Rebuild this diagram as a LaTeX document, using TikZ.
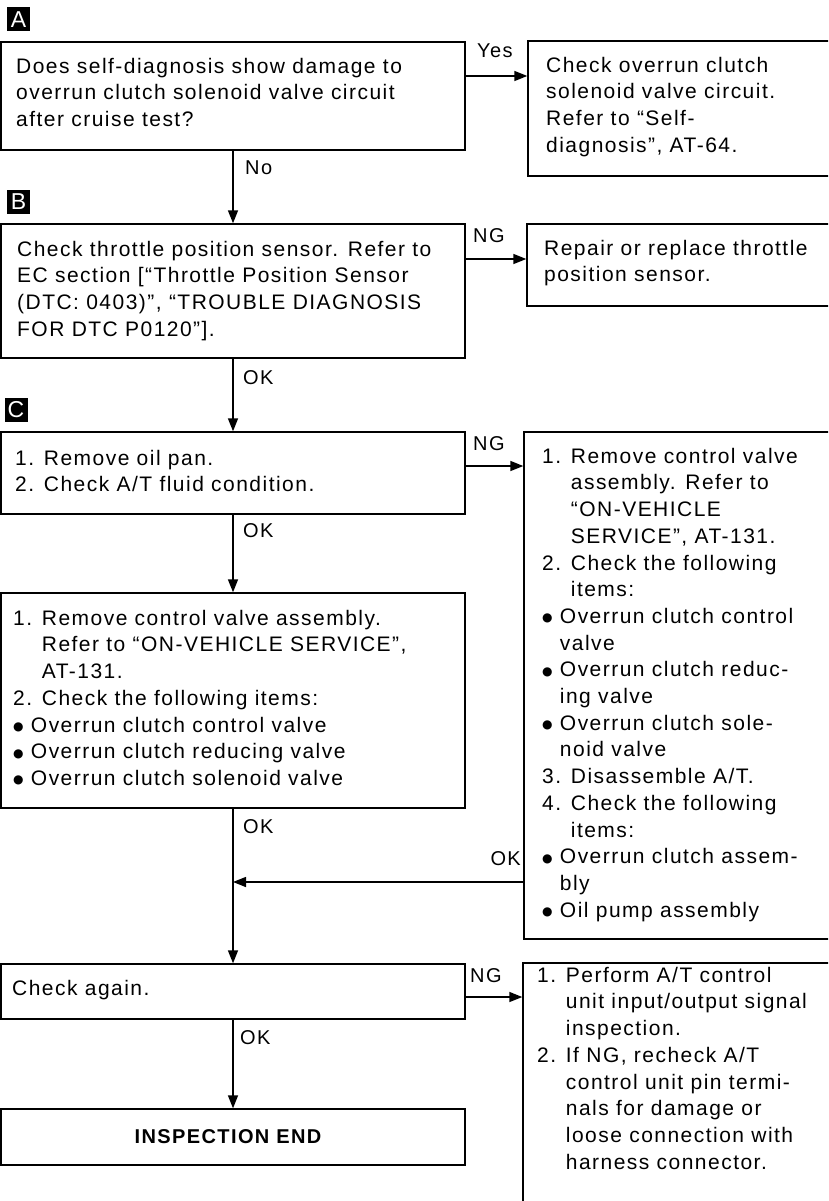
\documentclass[tikz,border=0pt]{standalone}
\usepackage{fontspec}
\setmainfont{Liberation Sans}[LetterSpace=7,Ligatures={TeX,NoCommon}]
\newfontfamily\symfnt{DejaVu Sans}
\usetikzlibrary{arrows.meta,fit}
\newcommand\firstline{\rule{0pt}{16pt}}
\newcommand\numind{\phantom{1. }}
\newcommand\bulsym{\raisebox{1.6pt}{\symfnt\fontsize{12}{12}\selectfont ●}}
\newcommand\bulind{\phantom{\bulsym\ }}
\begin{document}
\begin{tikzpicture}[x=1pt,y=-1pt,
  box/.style={draw, line width=1.4pt, inner sep=0pt},
  txt/.style={anchor=north west, inner sep=0pt, align=left, font=\fontsize{21}{26.7}\selectfont},
  lab/.style={anchor=base west, inner sep=0pt, font=\fontsize{20}{22}\selectfont},
  arr/.style={line width=1.4pt, -{Triangle[length=13pt,width=10pt]}},
  secmark/.style={fill=black, text=white, inner sep=0pt, minimum width=23pt, minimum height=24pt, font=\fontsize{23}{23}\selectfont}
]
\useasboundingbox (0,0) rectangle (828,1201);
\fill[white] (0,0) rectangle (828,1201);
\clip (0,0) rectangle (828,1201);

% section markers
\node[secmark] (mA) at (18.5,19.5) {A};
\node[secmark] (mB) at (18.5,202) {B};
\node[secmark] (mC) at (16,410) {C};

% boxes
\node[box, fit={(1,42) (465,150)}] (A) {};
\node[box, fit={(528,41) (835,176)}] (Ap) {};
\node[box, fit={(1,224) (465,358)}] (B) {};
\node[box, fit={(527,224) (835,306)}] (Bp) {};
\node[box, fit={(1,432) (465,514)}] (C1) {};
\node[box, fit={(524,432) (835,939)}] (Cp) {};
\node[box, fit={(1,593) (465,808)}] (C2) {};
\node[box, fit={(1,964) (465,1019)}] (Chk) {};
\node[box, fit={(523,963) (835,1215)}] (D) {};
\node[box, fit={(1,1109) (465,1165)}] (End) {};

% texts
\node[txt] (At) at (16,57) {\firstline Does self-diagnosis show damage to\\
overrun clutch solenoid valve circuit\\
after cruise test?};
\node[txt] (Apt) at (546,56) {\firstline Check overrun clutch\\
solenoid valve circuit.\\
Refer to “Self-\\
diagnosis”, AT-64.};
\node[txt] (Bt) at (17,240) {\firstline Check throttle position sensor. Refer to\\
EC section [“Throttle Position Sensor\\
(DTC: 0403)”, “TROUBLE DIAGNOSIS\\
FOR DTC P0120”].};
\node[txt] (Bpt) at (544,239) {\firstline Repair or replace throttle\\
position sensor.};
\node[txt] (C1t) at (15,449) {\firstline 1. Remove oil pan.\\
2. Check A/T fluid condition.};
\node[txt] (Cpt) at (542,447) {\firstline 1. Remove control valve\\
\numind assembly. Refer to\\
\numind “ON-VEHICLE\\
\numind SERVICE”, AT-131.\\
2. Check the following\\
\numind items:\\
\bulsym\ Overrun clutch control\\
\bulind valve\\
\bulsym\ Overrun clutch reduc-\\
\bulind ing valve\\
\bulsym\ Overrun clutch sole-\\
\bulind noid valve\\
3. Disassemble A/T.\\
4. Check the following\\
\numind items:\\
\bulsym\ Overrun clutch assem-\\
\bulind bly\\
\bulsym\ Oil pump assembly};
\node[txt] (C2t) at (13,609) {\firstline 1. Remove control valve assembly.\\
\numind Refer to “ON-VEHICLE SERVICE”,\\
\numind AT-131.\\
2. Check the following items:\\
\bulsym\ Overrun clutch control valve\\
\bulsym\ Overrun clutch reducing valve\\
\bulsym\ Overrun clutch solenoid valve};
\node[txt] (Chkt) at (12,979) {\firstline Check again.};
\node[txt] (Dt) at (537,966) {\firstline 1. Perform A/T control\\
\numind unit input/output signal\\
\numind inspection.\\
2. If NG, recheck A/T\\
\numind control unit pin termi-\\
\numind nals for damage or\\
\numind loose connection with\\
\numind harness connector.};
\node[anchor=base, inner sep=0pt, font=\fontsize{20}{22}\selectfont\bfseries] (Endt) at (228,1143) {INSPECTION END};

% connector coordinates
\coordinate (yA) at (0,76);
\coordinate (yB) at (0,259);
\coordinate (yC) at (0,466);
\coordinate (j) at (233,882);
\coordinate (yD) at (0,997);

% connectors
\draw[arr] (A.east |- yA) -- (Ap.west |- yA);
\draw[arr] (A.south) -- (B.north);
\draw[arr] (B.east |- yB) -- (Bp.west |- yB);
\draw[arr] (B.south) -- (C1.north);
\draw[arr] (C1.east |- yC) -- (Cp.west |- yC);
\draw[arr] (C1.south) -- (C2.north);
\draw[arr] (C2.south) -- (Chk.north);
\draw[arr] (Cp.west |- j) -- (j);
\draw[arr] (Chk.east |- yD) -- (D.west |- yD);
\draw[arr] (Chk.south) -- (End.north);

% labels
\node[lab] (lYes) at (477,58) {Yes};
\node[lab] (lNo) at (245,175) {No};
\node[lab] (lNG1) at (473,242) {NG};
\node[lab] (lOK1) at (243,384) {OK};
\node[lab] (lNG2) at (473,450) {NG};
\node[lab] (lOK2) at (243,537) {OK};
\node[lab] (lOK3) at (243,833) {OK};
\node[lab, anchor=base east] (lOK4) at (521,865) {OK};
\node[lab] (lNG3) at (470,982) {NG};
\node[lab] (lOK5) at (240,1044) {OK};
\end{tikzpicture}
\end{document}
